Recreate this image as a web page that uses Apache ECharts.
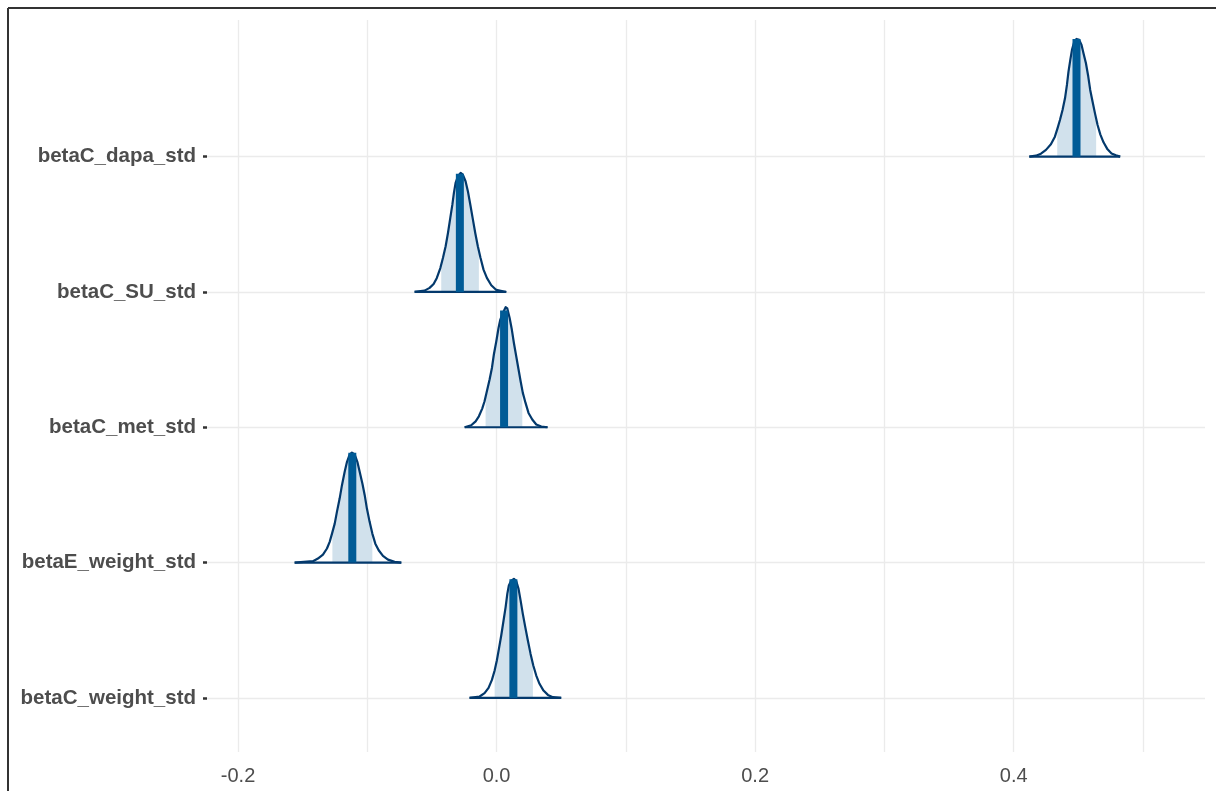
<!DOCTYPE html>
<html>
<head>
<meta charset="utf-8">
<script src="https://cdn.jsdelivr.net/npm/echarts@6/dist/echarts.min.js"></script>
<style>
  html, body { margin: 0; padding: 0; background: #ffffff; }
  #chart { width: 1216px; height: 791px; }
</style>
</head>
<body>
<div id="chart"></div>
<script>
// Parameter names, bottom row first (row index = position on the y scale)
const paramNames = ['betaC_weight_std', 'betaE_weight_std', 'betaC_met_std', 'betaC_SU_std', 'betaC_dapa_std'];

// Tick labels on the x scale and minor/major grid positions
const xTickLabels = [-0.2, 0.0, 0.2, 0.4];
const xGridValues = [-0.2, -0.1, 0.0, 0.1, 0.2, 0.3, 0.4, 0.5];

// Posterior density outlines: x = parameter value, h = scaled density height (in row units)
const weightCX = [-0.0209, -0.0131, -0.0093, -0.0062, -0.0036, -0.0015, 0.0002, 0.0018, 0.0036, 0.0054, 0.0070, 0.0083, 0.0095, 0.0114, 0.0134, 0.0152, 0.0170, 0.0186, 0.0203, 0.0222, 0.0242, 0.0263, 0.0284, 0.0307, 0.0332, 0.0363, 0.0397, 0.0435, 0.0500];
const weightCH = [0, 0.010, 0.035, 0.074, 0.133, 0.202, 0.276, 0.362, 0.461, 0.572, 0.671, 0.769, 0.830, 0.867, 0.880, 0.863, 0.806, 0.719, 0.621, 0.523, 0.424, 0.325, 0.239, 0.165, 0.104, 0.054, 0.022, 0.005, 0];

const weightEX = [-0.1562, -0.1420, -0.1382, -0.1343, -0.1312, -0.1291, -0.1273, -0.1252, -0.1235, -0.1214, -0.1196, -0.1175, -0.1157, -0.1136, -0.1119, -0.1098, -0.1077, -0.1059, -0.1038, -0.1020, -0.1003, -0.0982, -0.0961, -0.0938, -0.0912, -0.0879, -0.0840, -0.0789, -0.0737];
const weightEH = [0, 0.010, 0.030, 0.059, 0.104, 0.153, 0.214, 0.288, 0.375, 0.473, 0.572, 0.671, 0.745, 0.799, 0.813, 0.799, 0.745, 0.671, 0.584, 0.498, 0.399, 0.301, 0.214, 0.140, 0.091, 0.050, 0.022, 0.005, 0];

const metX = [-0.0247, -0.0196, -0.0162, -0.0137, -0.0111, -0.0093, -0.0075, -0.0054, -0.0036, -0.0021, -0.0002, 0.0015, 0.0029, 0.0049, 0.0070, 0.0083, 0.0101, 0.0118, 0.0134, 0.0152, 0.0170, 0.0186, 0.0203, 0.0224, 0.0247, 0.0276, 0.0307, 0.0346, 0.0394];
const metH = [0, 0.015, 0.044, 0.081, 0.138, 0.192, 0.266, 0.353, 0.438, 0.538, 0.636, 0.734, 0.796, 0.845, 0.887, 0.878, 0.808, 0.722, 0.623, 0.525, 0.427, 0.340, 0.254, 0.180, 0.106, 0.057, 0.020, 0.005, 0];

const suX = [-0.0634, -0.0557, -0.0518, -0.0487, -0.0462, -0.0435, -0.0415, -0.0394, -0.0376, -0.0358, -0.0342, -0.0330, -0.0317, -0.0299, -0.0278, -0.0261, -0.0240, -0.0222, -0.0203, -0.0183, -0.0165, -0.0145, -0.0124, -0.0101, -0.0075, -0.0041, -0.0002, 0.0075];
const suH = [0, 0.010, 0.030, 0.059, 0.104, 0.177, 0.251, 0.338, 0.436, 0.547, 0.645, 0.732, 0.806, 0.855, 0.880, 0.867, 0.818, 0.745, 0.645, 0.535, 0.436, 0.338, 0.251, 0.165, 0.104, 0.050, 0.015, 0];

const dapaX = [0.4121, 0.4172, 0.4211, 0.4250, 0.4288, 0.4319, 0.4339, 0.4358, 0.4378, 0.4397, 0.4412, 0.4424, 0.4438, 0.4451, 0.4469, 0.4486, 0.4507, 0.4525, 0.4540, 0.4559, 0.4577, 0.4592, 0.4610, 0.4629, 0.4649, 0.4670, 0.4695, 0.4726, 0.4757, 0.4791, 0.4824];
const dapaH = [0, 0.007, 0.022, 0.050, 0.091, 0.148, 0.209, 0.271, 0.345, 0.431, 0.530, 0.628, 0.715, 0.789, 0.850, 0.870, 0.863, 0.826, 0.764, 0.690, 0.592, 0.493, 0.407, 0.320, 0.234, 0.165, 0.106, 0.054, 0.024, 0.010, 0];

// Posterior medians and inner (50%) interval bounds, same order as paramNames
const medians = [0.0130, -0.1116, 0.0058, -0.0284, 0.4486];
const innerLow = [-0.0015, -0.1270, -0.0085, -0.0428, 0.4337];
const innerHigh = [0.0281, -0.0961, 0.0199, -0.0137, 0.4638];

const curvesX = [weightCX, weightEX, metX, suX, dapaX];
const curvesH = [weightCH, weightEH, metH, suH, dapaH];

const COL_OUTLINE = '#03396c';
const COL_MEDIAN = '#005b96';
const COL_INNER = '#d1e1ec';

// Linear lookup of the density height at value v
function heightAt(xs, hs, v) {
  if (v <= xs[0]) return hs[0];
  for (let i = 1; i < xs.length; i++) {
    if (v <= xs[i]) {
      const t = (v - xs[i - 1]) / (xs[i] - xs[i - 1]);
      return hs[i - 1] + t * (hs[i] - hs[i - 1]);
    }
  }
  return hs[hs.length - 1];
}

function renderDensity(params, api) {
  const row = api.value(0);
  const xs = curvesX[row], hs = curvesH[row];
  const lo = innerLow[row], hi = innerHigh[row], med = medians[row];

  // inner interval shading
  const shade = [api.coord([lo, row]), api.coord([lo, row + heightAt(xs, hs, lo)])];
  for (let i = 0; i < xs.length; i++) {
    if (xs[i] > lo && xs[i] < hi) shade.push(api.coord([xs[i], row + hs[i]]));
  }
  shade.push(api.coord([hi, row + heightAt(xs, hs, hi)]));
  shade.push(api.coord([hi, row]));

  // outline of the full density
  const outline = xs.map((x, i) => api.coord([x, row + hs[i]]));
  const base0 = api.coord([xs[0], row]);
  const base1 = api.coord([xs[xs.length - 1], row]);

  const medBottom = api.coord([med, row]);
  const medTop = api.coord([med, row + heightAt(xs, hs, med)]);

  return {
    type: 'group',
    children: [
      { type: 'polygon', shape: { points: shade }, style: { fill: COL_INNER } },
      { type: 'polyline', shape: { points: outline }, style: { stroke: COL_OUTLINE, lineWidth: 2.2, fill: null, lineJoin: 'round' } },
      { type: 'line', shape: { x1: base0[0], y1: base0[1], x2: base1[0], y2: base1[1] }, style: { stroke: COL_OUTLINE, lineWidth: 2.2 } },
      { type: 'line', shape: { x1: medBottom[0], y1: medBottom[1], x2: medTop[0], y2: medTop[1] }, style: { stroke: COL_MEDIAN, lineWidth: 8 } }
    ]
  };
}

const chart = echarts.init(document.getElementById('chart'), null, { renderer: 'canvas' });

chart.setOption({
  backgroundColor: '#ffffff',
  animation: false,
  textStyle: { fontFamily: 'Liberation Sans, Arial, sans-serif' },
  graphic: [
    { type: 'line', shape: { x1: 8, y1: 8, x2: 1216, y2: 8 }, style: { stroke: '#333333', lineWidth: 2 } },
    { type: 'line', shape: { x1: 8, y1: 8, x2: 8, y2: 791 }, style: { stroke: '#333333', lineWidth: 2 } }
  ],
  grid: { left: 207, right: 11, top: 20, bottom: 39 },
  xAxis: {
    type: 'value',
    min: -0.224,
    max: 0.548,
    axisLine: { show: false, onZero: false },
    axisTick: { show: false, customValues: xGridValues },
    axisLabel: {
      customValues: xTickLabels,
      formatter: v => v.toFixed(1),
      color: '#4d4d4d',
      fontSize: 20,
      margin: 14
    },
    splitLine: { show: true, lineStyle: { color: '#ebebeb', width: 1.3 } }
  },
  yAxis: {
    type: 'value',
    min: -0.4,
    max: 5.01,
    axisLine: { show: false, onZero: false },
    axisTick: {
      show: true,
      length: 4,
      customValues: [0, 1, 2, 3, 4],
      lineStyle: { color: '#333333', width: 2.5 }
    },
    axisLabel: {
      customValues: [0, 1, 2, 3, 4],
      formatter: v => paramNames[Math.round(v)],
      color: '#4d4d4d',
      fontWeight: 'bold',
      fontSize: 20.5,
      margin: 11,
      padding: [3, 0, 0, 0]
    },
    splitLine: { show: true, lineStyle: { color: '#ebebeb', width: 1.3 } }
  },
  series: [{
    type: 'custom',
    renderItem: renderDensity,
    data: paramNames.map((n, i) => [i]),
    encode: { x: -1, y: 0 },
    clip: false,
    silent: true
  }]
});
</script>
</body>
</html>
